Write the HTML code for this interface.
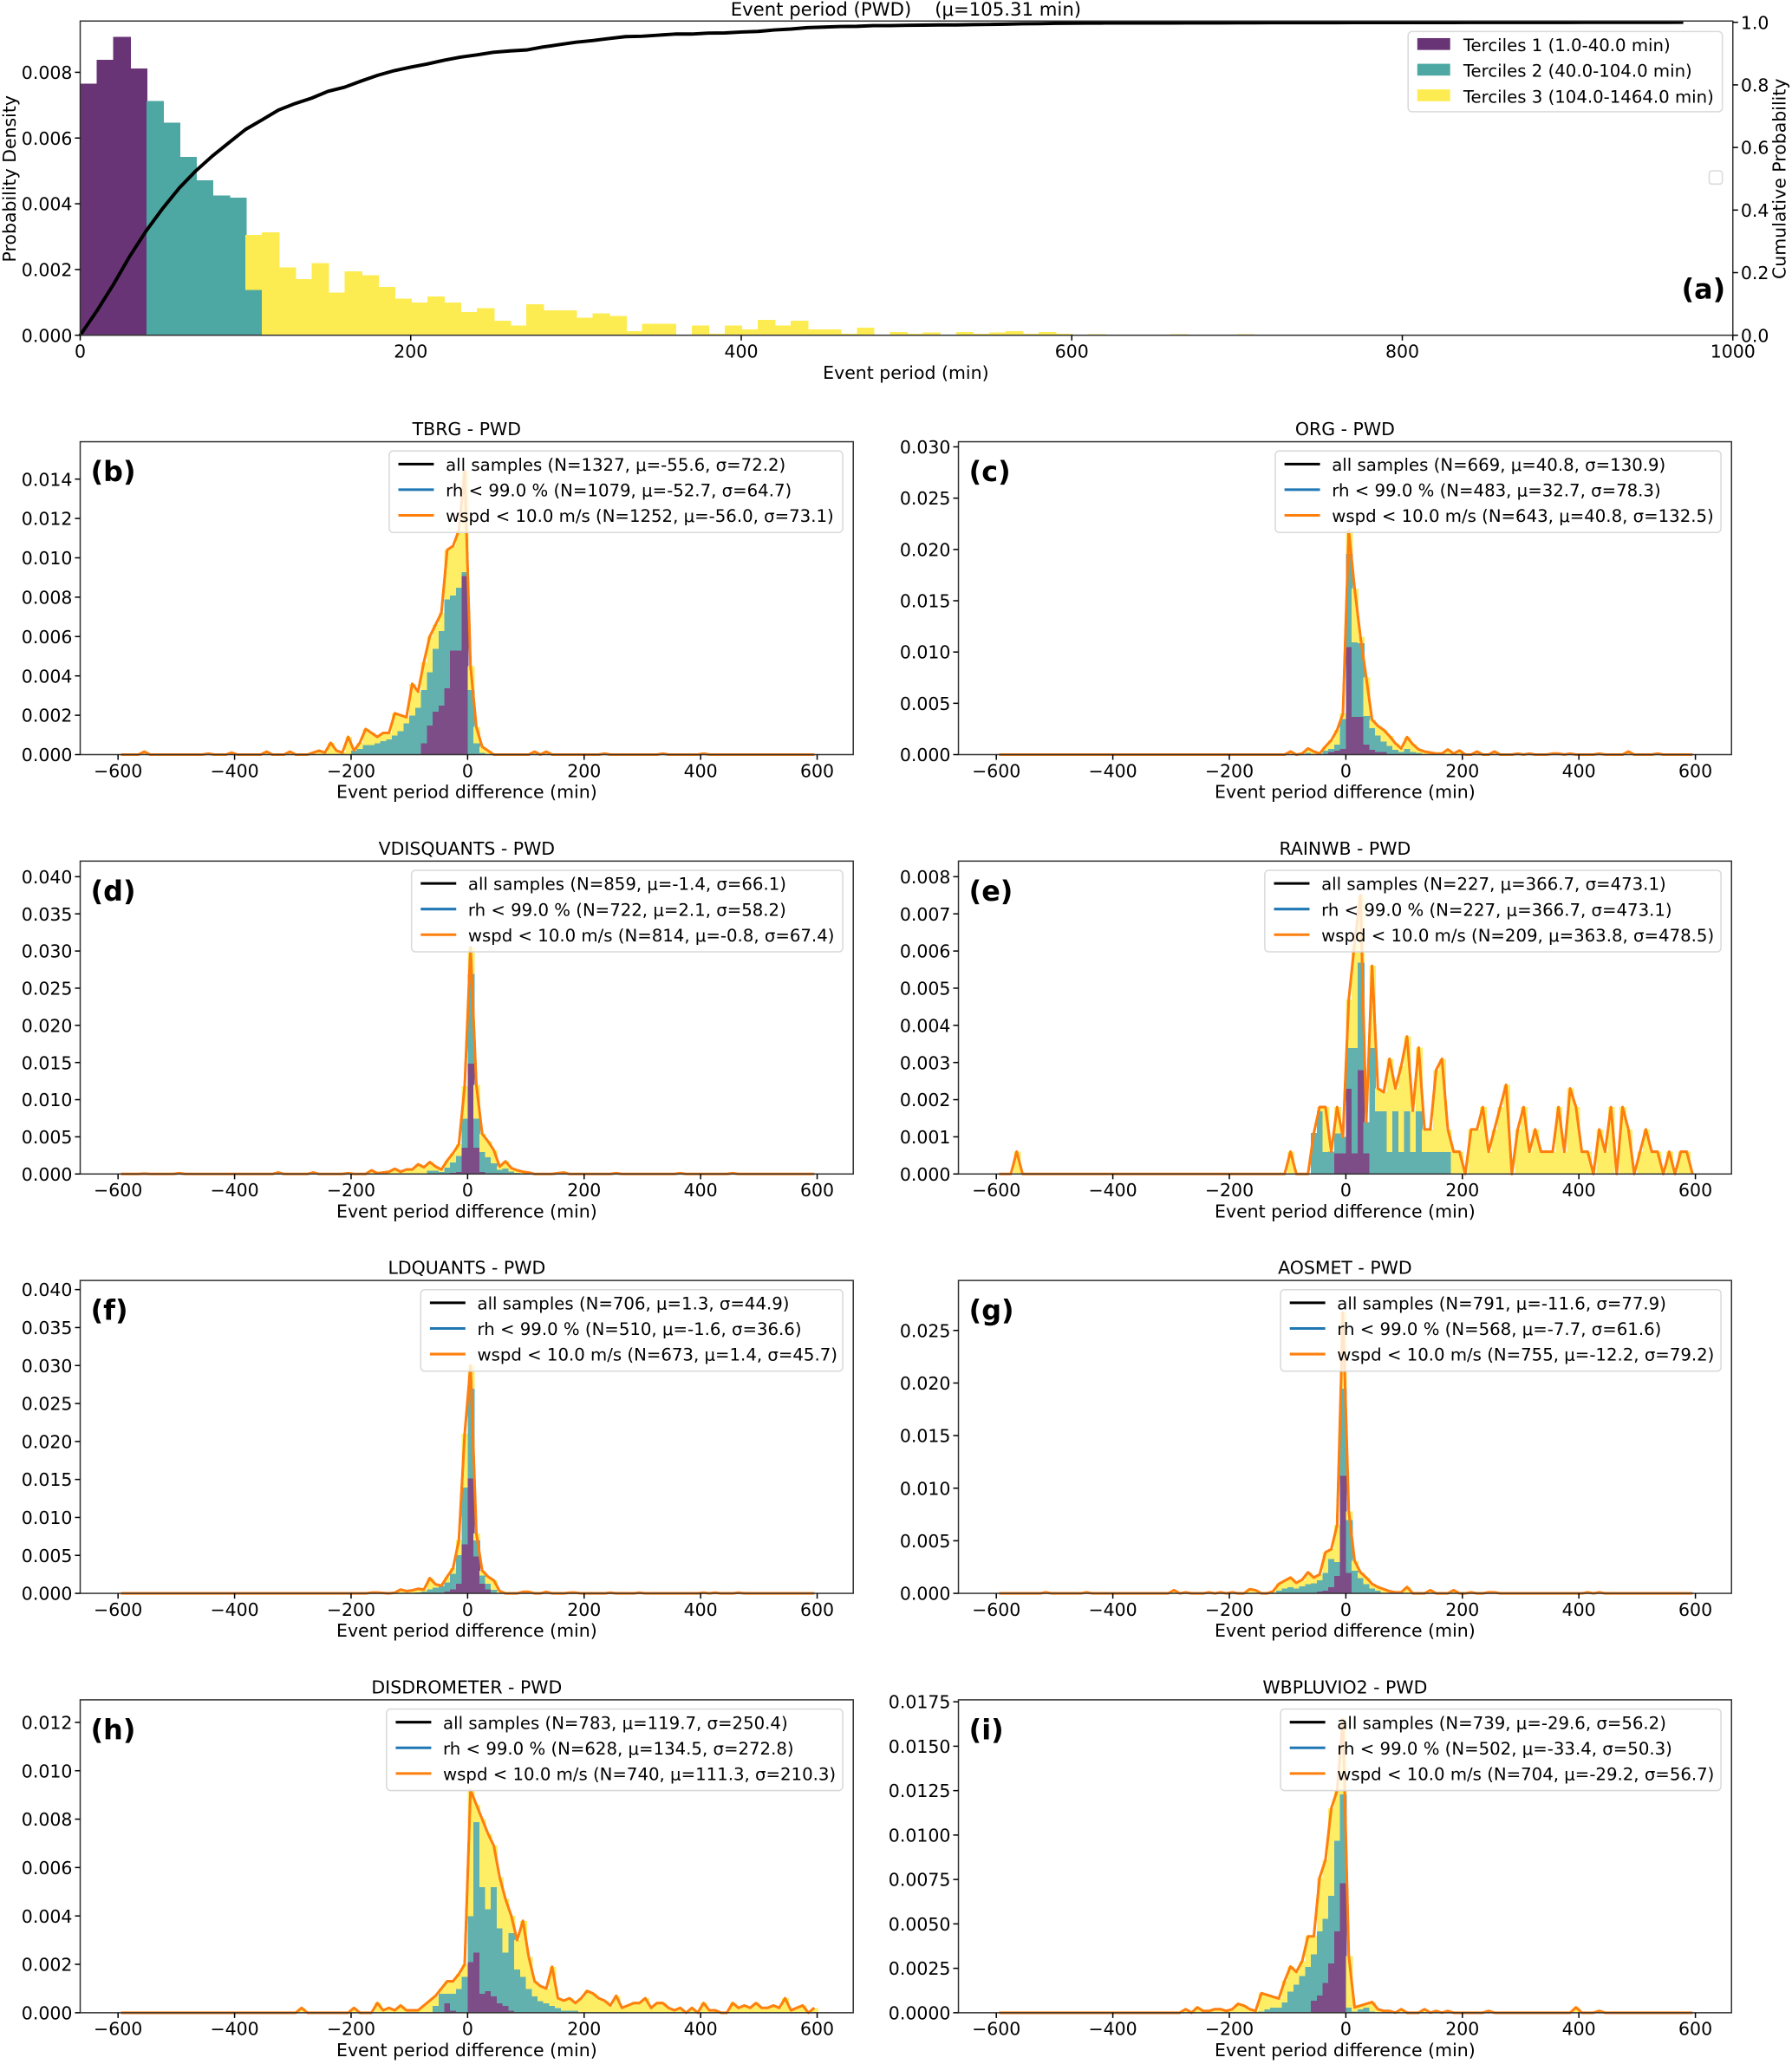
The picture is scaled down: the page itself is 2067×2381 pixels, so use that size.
<!DOCTYPE html>
<html><head><meta charset="utf-8">
<style>
html,body{margin:0;padding:0;background:#fff;}
svg{display:block;font-family:"DejaVu Sans","Liberation Sans",sans-serif;}
</style></head>
<body>
<svg id="fig" width="2067" height="2381" viewBox="0 0 1363 1570" preserveAspectRatio="none" xmlns="http://www.w3.org/2000/svg"></svg>
<script>
// ---------- Panel (a) data: density per 10-min bin (x1e-3) ----------
const aT1Start = 0;
const aT1 = [7.66,8.38,9.08,8.12];
const aT2Start = 40;
const aT2 = [7.13,6.47,5.42,4.71,4.25,4.18,1.39];
const aT3Start = 100;
const aT3 = [1.66,3.13,2.06,1.71,2.19,1.30,1.95,1.83,1.47,1.12,1.0,1.18,1.0,0.71,0.83,0.44,0.30,0.94,0.76,0.76,0.53,0.66,0.59,0.12,0.35,0.35,0,0.30,0.05,0.30,0.18,0.47,0.30,0.44,0.18,0.18,0.05,0.23,0,0.1,0.05,0.08,0,0.1,0.05,0.08,0.12,0.04,0.1,0.05,0.02,0.03,0,0,0.02,0,0.03,0,0,0.02,0.03,0.02,0,0,0,0,0.02,0,0,0,0,0.02,0,0.02,0,0,0.02,0,0,0,0.02,0,0,0,0,0,0.02,0,0,0];
const aXTicks = [0,200,400,600,800,1000];
const aYTicks = ["0.000","0.002","0.004","0.006","0.008"];
const aRTicks = ["0.0","0.2","0.4","0.6","0.8","1.0"];

// ---------- Lower panels: stacked tops (x1e-3), bins of 10 min ----------
const bStart = -270;
const bAll = [0.1,0.2,0.1,0.6,0.2,0.1,0.9,0.2,0.6,1.3,1.1,0.9,1.1,1.1,2.1,2.0,1.9,3.6,3.2,4.7,6.0,6.6,7.2,10.4,10.6,11.4,14.4,4.5,1.4,0.4,0.2];
const bT12 = [0,0,0,0,0,0,0,0.2,0.3,0.5,0.5,0.6,0.7,0.8,1.0,1.2,1.6,2.0,2.4,3.3,4.2,5.4,6.3,7.9,8.1,8.5,9.3,3.3,0.6,0.1,0];
const bT1 = [0,0,0,0,0,0,0,0,0,0,0,0,0,0,0,0,0,0,0,0.6,1.5,2.2,2.5,3.4,5.3,5.3,9.1,0,0,0,0];
const bTailX = [-555,-445,-405,-345,-305,115,135,235,335,405];
const bTailY = [0.15,0.05,0.1,0.15,0.15,0.15,0.15,0.05,0.05,0.05];

const cStart = -100;
const cAll = [0.3,0,0.1,0.6,0.3,0.1,0.8,1.4,2.4,4.0,21.8,16.2,11.5,7.5,3.4,2.8,2.4,1.8,1.1,0.6,1.7,1.0,0.5,0.3,0.2,0.1,0.1,0.5,0.1,0.4];
const cT12 = [0,0,0,0.2,0.1,0.1,0.4,0.6,1.0,3.5,19.6,11.0,10.9,3.8,2.6,1.9,1.3,0.9,0.5,0.3,0.6,0.3,0.2,0.1];
const cT1 = [0,0,0,0,0,0,0,0.3,0.4,0.6,10.5,3.7,3.7,1.0,0.5,0.3,0.3];
const cTailX = [225,255,295,315,355,365,385,435,485,535];
const cTailY = [0.3,0.3,0.1,0.1,0.1,0.1,0.1,0.1,0.3,0.1];

const dStart = -170;
const dAll = [0.5,0.1,0.2,0.3,0.7,0.3,0.6,0.6,1.3,0.9,1.6,1.0,0.6,1.8,2.8,4.0,11.8,30.5,12.0,5.4,4.4,3.2,1.0,1.7,0.8,0.5,0.3,0.2];
const dT12 = [0,0,0,0,0,0,0,0,0,0.1,0.5,0.5,0.3,0.9,1.6,2.5,7.5,27.0,7.5,3.0,2.3,1.5,0.6,0.8,0.4,0.2,0.1];
const dT1 = [0,0,0,0,0,0,0,0,0,0,0,0,0,0,0.2,0.3,3.6,14.9,3.6,0.3];
const dTailX = [-555,-495,-325,-265,-205,155,165,255,365,455];
const dTailY = [0.05,0.1,0.2,0.2,0.1,0.1,0.2,0.1,0.1,0.1];

const eStart = -100;
const eAll = [0.6,0,0,0,1.1,1.8,1.8,0.6,1.8,1.0,4.7,6.2,7.5,1.4,5.6,2.3,2.2,3.1,2.3,2.9,3.7,1.7,3.4,1.2,1.2,2.8,3.1,1.2,0.6,0.6,0,1.2,1.2,1.8,0.6,1.2,1.8,2.4,0,1.2,1.8,0.6,1.2,0.6,0.6,0.6,1.8,0.6,2.3,1.8,0.6,0.6,0,1.2,0.6,1.8,0,1.8,1.2,0,0.6,1.2,0.6,0.6,0,0.6,0,0.6,0.6,0];
const eT12 = [0,0,0,0,1.1,1.7,0.6,0.6,1.1,1.0,3.4,3.4,5.7,1.4,3.4,1.7,1.7,0.6,1.7,0.6,1.7,0.6,1.7,0.6,0.6,0.6,0.6,0.6,0,0];
const eT1 = [0,0,0,0,0,0,0,0,0.56,0.56,2.3,0.56,2.8,0.56];
const eTailX = [-565];
const eTailY = [0.6];

const fStart = -130;
const fAll = [0.1,0.5,0.3,0.4,0.6,0.5,2.0,1.2,1.0,2.2,3.3,7.0,21.0,30.0,7.9,3.0,2.2,1.7,0.3];
const fT12 = [0,0,0,0.1,0.2,0.3,0.6,0.8,1.0,1.5,2.6,5.1,14,27,7.0,2.4,1.3,0.5];
const fT1 = [0,0,0,0,0,0,0,0,0,0.3,0.6,1.3,6.5,15.2,4.9,1.3,0.6];
const fTailX = [-165,-155,-145,95,105,135,175,185,245,295,405,425,465];
const fTailY = [0.1,0.1,0.05,0.2,0.2,0.2,0.1,0.1,0.1,0.1,0.1,0.1,0.1];

const gStart = -130;
const gAll = [0.2,0.9,1.2,1.5,1.0,1.3,2.0,1.5,1.8,3.9,4.2,6.5,26.7,7.8,3.1,2.0,1.5,0.9,0.6,0.4,0.2,0.1,0.1,0.6];
const gT12 = [0,0.3,0.5,0.6,0.5,0.7,0.9,1.0,1.3,2.0,3.3,3.0,19.5,7.0,2.2,1.5,0.9,0.5,0.3,0.1];
const gT1 = [0,0,0,0,0,0,0,0,0.2,0.3,0.6,1.7,11.2,2.0];
const gTailX = [-515,-445,-295,-275,-235,-215,-195,-165,-155,145,185,215,245,255,415,435];
const gTailY = [0.1,0.1,0.3,0.1,0.1,0.1,0.1,0.4,0.3,0.3,0.3,0.1,0.1,0.1,0.1,0.1];

const hStart = -90;
const hAll = [0.1,0.3,0.5,0.7,1.0,1.3,1.3,1.6,2.0,9.2,8.6,8.0,7.4,6.9,5.6,4.7,4.0,3.0,3.8,2.3,1.3,1.1,1.0,1.9,0.6,0.5,0.6,0.4,0.6,0.9,0.8,0.6,0.5,0.3,0.7,0.2,0.3,0.4,0.4,0.6,0.2,0.4,0.4,0.2,0.1,0.2,0,0.2,0,0.4,0.1,0.1,0,0,0.4,0.2,0.3,0.2,0.4,0.2,0.2,0.3,0.2,0.6,0.1,0.2,0.3,0,0.2];
const hT12 = [0,0,0,0.3,0.8,0.8,0.8,1.0,1.5,4.0,7.9,5.2,4.3,5.2,3.5,2.5,3.3,1.8,1.5,1.0,0.7,0.5,0.4,0.3,0.2,0.1,0.1,0.1];
const hT1 = [0,0,0,0,0,0.4,0.1,0,0,2.1,2.5,0.8,0.9,0.7,0.4,0.3,0.1];
const hTailX = [-285,-195,-155,-145,-135,-125,-115,-105,-95];
const hTailY = [0.2,0.2,0.4,0.1,0.2,0.1,0.3,0.1,0.1];

const iStart = -280;
const iAll = [0.2,0,0.3,0.1,0.1,0.2,0.2,0.1,0.2,0.5,0.4,0.2,0.1,1.1,1.0,0.9,0.8,1.8,2.6,2.3,2.9,4.3,4.3,7.6,8.6,11.5,12.5,16.5,3.2,0.3,0.4,0.5,0.6,0.2,0.1,0.1,0,0.2];
const iT12 = [0,0,0,0,0,0,0,0,0,0,0,0,0,0.1,0.2,0.3,0.3,0.6,1.2,1.6,2.1,2.6,3.3,4.6,5.3,6.6,9.7,12.3,0.3,0.1,0.2,0.3,0.1];
const iT1 = [0,0,0,0,0,0,0,0,0,0,0,0,0,0,0,0,0,0,0,0,0,0,0.7,1.0,1.7,2.8,4.6,7.3];
const iTailX = [135,155,175,245,395,435];
const iTailY = [0.2,0.1,0.1,0.1,0.3,0.1];

const lowXTicks = [-600,-400,-200,0,200,400,600];

// ---------- rendering ----------
const NS = "http://www.w3.org/2000/svg";
const svg = document.getElementById("fig");
function mk(tag, attrs, parent, txt){
  const el = document.createElementNS(NS, tag);
  for (const k in attrs) el.setAttribute(k, attrs[k]);
  if (txt !== undefined) el.textContent = txt;
  (parent || svg).appendChild(el);
  return el;
}
// blended (opaque) viridis colours
const A1 = "#693476", A2 = "#4da7a3", A3 = "#fdec51";
const L1 = "#7c4d87", L2 = "#63b1ae", L3 = "#fdee66";

// ===== Panel (a) =====
(function(){
  const L=61,R=1318,T=16,B=255, YMAX=9.56, RMAX=1.004;
  const g = mk("g",{});
  
  
  const xs = v => L + (v-0)/1000*(R-L);
  const ys = v => B - v/YMAX*(B-T);
  const yr = v => B - v/RMAX*(B-T);
  function bar(x0,v0,v1,col,name){
    if (v1<=v0) return;
    const r = mk("rect",{x:xs(x0),y:ys(v1),width:xs(x0+10)-xs(x0)+0.8,height:ys(v0)-ys(v1)+0.3,fill:col,"shape-rendering":"crispEdges"},g);
    
    
  }
  const dens = new Array(100).fill(0);
  aT1.forEach((v,i)=>{ const k=(aT1Start/10)+i; bar(aT1Start+10*i,dens[k],dens[k]+v,A1,'bar-tercile1'); dens[k]+=v; });
  aT2.forEach((v,i)=>{ const k=(aT2Start/10)+i; bar(aT2Start+10*i,dens[k],dens[k]+v,A2,'bar-tercile2'); dens[k]+=v; });
  aT3.forEach((v,i)=>{ const k=(aT3Start/10)+i; if(k<100){bar(aT3Start+10*i,dens[k],dens[k]+v,A3,'bar-tercile3'); dens[k]+=v;} });
  const tot = dens.reduce((s,v)=>s+v,0);
  let cum=0, pts=[xs(0)+","+yr(0)];
  for(let k=0;k<97;k++){ cum+=dens[k]; pts.push(xs(10*k+10)+","+yr(cum/tot)); }
  const cl = mk("polyline",{points:pts.join(" "),fill:"none",stroke:"#000","stroke-width":2.6,"stroke-linejoin":"round"},g);
  
  
  const fr = mk("rect",{x:L,y:T,width:R-L,height:B-T,fill:"none",stroke:"#333","stroke-width":1},g);
  
  
  aXTicks.forEach(v=>{
    mk("line",{x1:xs(v),x2:xs(v),y1:B,y2:B+4,stroke:"#000"},g);
    const t = mk("text",{x:xs(v),y:B+17,"font-size":13.5,"text-anchor":"middle"},g,String(v));
    
    
  });
  aYTicks.forEach((s,i)=>{
    const y = ys(parseFloat(s)*1000);
    mk("line",{x1:L-4,x2:L,y1:y,y2:y,stroke:"#000"},g);
    const t = mk("text",{x:L-6,y:y+5,"font-size":13.5,"text-anchor":"end"},g,s);
    
    
  });
  aRTicks.forEach(s=>{
    const y = yr(parseFloat(s));
    mk("line",{x1:R,x2:R+4,y1:y,y2:y,stroke:"#000"},g);
    const t = mk("text",{x:R+6,y:y+5,"font-size":13.5},g,s);
    
    
  });
  let t = mk("text",{x:689,y:12,"font-size":14,"text-anchor":"middle"},g,"Event period (PWD)\u00a0\u00a0\u00a0\u00a0(\u03bc=105.31 min)");
  
  
  t = mk("text",{x:689,y:288,"font-size":13.5,"text-anchor":"middle"},g,"Event period (min)");
  
  
  t = mk("text",{x:12,y:136,"font-size":13.5,"text-anchor":"middle",transform:"rotate(-90 12 136)"},g,"Probability Density");
  
  
  t = mk("text",{x:1358,y:136,"font-size":13.5,"text-anchor":"middle",transform:"rotate(-90 1358 136)"},g,"Cumulative Probability");
  
  
  t = mk("text",{x:1279,y:227,"font-size":21,"font-weight":"bold"},g,"(a)");
  
  
  const lg = mk("g",{},g);
  
  
  mk("rect",{x:1071,y:24,width:239,height:61,rx:3,fill:"#fff","fill-opacity":0.8,stroke:"#d9d9d9"},lg);
  const labs = ["Terciles 1 (1.0-40.0 min)","Terciles 2 (40.0-104.0 min)","Terciles 3 (104.0-1464.0 min)"];
  [A1,A2,A3].forEach((c,i)=>{
    const y = 34+i*19.5;
    mk("rect",{x:1078,y:y-5,width:25,height:9,fill:c},lg);
    const tt = mk("text",{x:1113,y:y+5,"font-size":13},lg,labs[i]);
    
    
  });
  const sq = mk("rect",{x:1300,y:130,width:10,height:10,rx:2,fill:"#fff",stroke:"#d9d9d9"},g);
  
  
})();

// ===== Lower panels =====
const panels = [
 {id:"b",title:"TBRG - PWD",col:0,row:0,ymax:15.9,step:2,dec:3,tmax:14,start:bStart,all:bAll,t12:bT12,t1:bT1,tx:bTailX,ty:bTailY,leg:296,
  labels:["all samples (N=1327, \u03bc=-55.6, \u03c3=72.2)","rh < 99.0 % (N=1079, \u03bc=-52.7, \u03c3=64.7)","wspd < 10.0 m/s (N=1252, \u03bc=-56.0, \u03c3=73.1)"]},
 {id:"c",title:"ORG - PWD",col:1,row:0,ymax:30.5,step:5,dec:3,tmax:30,start:cStart,all:cAll,t12:cT12,t1:cT1,tx:cTailX,ty:cTailY,leg:970,
  labels:["all samples (N=669, \u03bc=40.8, \u03c3=130.9)","rh < 99.0 % (N=483, \u03bc=32.7, \u03c3=78.3)","wspd < 10.0 m/s (N=643, \u03bc=40.8, \u03c3=132.5)"]},
 {id:"d",title:"VDISQUANTS - PWD",col:0,row:1,ymax:42.1,step:5,dec:3,tmax:40,start:dStart,all:dAll,t12:dT12,t1:dT1,tx:dTailX,ty:dTailY,leg:313,
  labels:["all samples (N=859, \u03bc=-1.4, \u03c3=66.1)","rh < 99.0 % (N=722, \u03bc=2.1, \u03c3=58.2)","wspd < 10.0 m/s (N=814, \u03bc=-0.8, \u03c3=67.4)"]},
 {id:"e",title:"RAINWB - PWD",col:1,row:1,ymax:8.42,step:1,dec:3,tmax:8,start:eStart,all:eAll,t12:eT12,t1:eT1,tx:eTailX,ty:eTailY,leg:962,
  labels:["all samples (N=227, \u03bc=366.7, \u03c3=473.1)","rh < 99.0 % (N=227, \u03bc=366.7, \u03c3=473.1)","wspd < 10.0 m/s (N=209, \u03bc=363.8, \u03c3=478.5)"]},
 {id:"f",title:"LDQUANTS - PWD",col:0,row:2,ymax:41.2,step:5,dec:3,tmax:40,start:fStart,all:fAll,t12:fT12,t1:fT1,tx:fTailX,ty:fTailY,leg:320,
  labels:["all samples (N=706, \u03bc=1.3, \u03c3=44.9)","rh < 99.0 % (N=510, \u03bc=-1.6, \u03c3=36.6)","wspd < 10.0 m/s (N=673, \u03bc=1.4, \u03c3=45.7)"]},
 {id:"g",title:"AOSMET - PWD",col:1,row:2,ymax:29.75,step:5,dec:3,tmax:25,start:gStart,all:gAll,t12:gT12,t1:gT1,tx:gTailX,ty:gTailY,leg:974,
  labels:["all samples (N=791, \u03bc=-11.6, \u03c3=77.9)","rh < 99.0 % (N=568, \u03bc=-7.7, \u03c3=61.6)","wspd < 10.0 m/s (N=755, \u03bc=-12.2, \u03c3=79.2)"]},
 {id:"h",title:"DISDROMETER - PWD",col:0,row:3,ymax:12.93,step:2,dec:3,tmax:12,start:hStart,all:hAll,t12:hT12,t1:hT1,tx:hTailX,ty:hTailY,leg:294,
  labels:["all samples (N=783, \u03bc=119.7, \u03c3=250.4)","rh < 99.0 % (N=628, \u03bc=134.5, \u03c3=272.8)","wspd < 10.0 m/s (N=740, \u03bc=111.3, \u03c3=210.3)"]},
 {id:"i",title:"WBPLUVIO2 - PWD",col:1,row:3,ymax:17.61,step:2.5,dec:4,tmax:17.5,start:iStart,all:iAll,t12:iT12,t1:iT1,tx:iTailX,ty:iTailY,leg:974,
  labels:["all samples (N=739, \u03bc=-29.6, \u03c3=56.2)","rh < 99.0 % (N=502, \u03bc=-33.4, \u03c3=50.3)","wspd < 10.0 m/s (N=704, \u03bc=-29.2, \u03c3=56.7)"]}
];
const rowTop = [336,655,974,1293];

panels.forEach(p=>{
  const L = p.col===0 ? 61 : 729, R = L+588, T = rowTop[p.row], B = T+238;
  const XMIN=-665, XMAX=662;
  const xs = v => L + (v-XMIN)/(XMAX-XMIN)*(R-L);
  const ys = v => B - v/p.ymax*(B-T);
  const g = mk("g",{});
  
  
  function bar(x0,v0,v1,col,name){
    if (v1<=v0) return;
    const r = mk("rect",{x:xs(x0),y:ys(v1),width:xs(x0+10)-xs(x0)+0.8,height:ys(v0)-ys(v1)+0.3,fill:col,"shape-rendering":"crispEdges"},g);
    
    
  }
  const line = new Array(120).fill(0);
  p.all.forEach((v,i)=>{
    const x0 = p.start+10*i;
    const a1 = Math.min(p.t1[i]||0, v);
    const a12 = Math.max(a1, Math.min(p.t12[i]||0, v));
    bar(x0,0,a1,L1,'bar-tercile1');
    bar(x0,a1,a12,L2,'bar-tercile2');
    bar(x0,a12,v,L3,'bar-tercile3');
    const k = Math.round((x0+600)/10);
    if (k>=0 && k<120) line[k]=v;
  });
  p.tx.forEach((c,i)=>{
    const x0 = c-5;
    bar(x0,0,p.ty[i],L3,'bar-tercile3');
    const k = Math.round((x0+600)/10);
    if (k>=0 && k<120) line[k]=p.ty[i];
  });
  const pts = line.map((v,k)=> xs(-595+10*k)+","+ys(v)).join(" ");
  [["#000",1.6,'line-all-samples'],["#1f77b4",1.6,'line-rh'],["#ff7f0e",2.0,'line-wspd']].forEach(s=>{
    const pl = mk("polyline",{points:pts,fill:"none",stroke:s[0],"stroke-width":s[1],"stroke-linejoin":"round"},g);
    
    
  });
  const fr = mk("rect",{x:L,y:T,width:R-L,height:B-T,fill:"none",stroke:"#333","stroke-width":1},g);
  
  
  lowXTicks.forEach(v=>{
    mk("line",{x1:xs(v),x2:xs(v),y1:B,y2:B+4,stroke:"#000"},g);
    const t = mk("text",{x:xs(v),y:B+17,"font-size":13.5,"text-anchor":"middle"},g,(v<0?"\u2212"+(-v):String(v)));
    
    
  });
  for (let v=0; v<=p.tmax+1e-9; v+=p.step){
    const y = ys(v);
    mk("line",{x1:L-4,x2:L,y1:y,y2:y,stroke:"#000"},g);
    const t = mk("text",{x:L-6,y:y+5,"font-size":13.5,"text-anchor":"end"},g,(v/1000).toFixed(p.dec));
    
    
  }
  let t = mk("text",{x:(L+R)/2,y:T-5,"font-size":13.5,"text-anchor":"middle"},g,p.title);
  
  
  t = mk("text",{x:(L+R)/2,y:B+33,"font-size":13.5,"text-anchor":"middle"},g,"Event period difference (min)");
  
  
  t = mk("text",{x:L+8,y:T+30,"font-size":21,"font-weight":"bold"},g,"("+p.id+")");
  
  
  const lg = mk("g",{},g);
  
  
  mk("rect",{x:p.leg,y:T+7,width:R-8-p.leg,height:62,rx:3,fill:"#fff","fill-opacity":0.8,stroke:"#d9d9d9"},lg);
  ["#000","#1f77b4","#ff7f0e"].forEach((c,i)=>{
    const y = T+17+i*19.5;
    mk("line",{x1:p.leg+7,x2:p.leg+34,y1:y,y2:y,stroke:c,"stroke-width":2},lg);
    const tt = mk("text",{x:p.leg+43,y:y+5,"font-size":13},lg,p.labels[i]);
    
    
  });
});
</script>
</body></html>
